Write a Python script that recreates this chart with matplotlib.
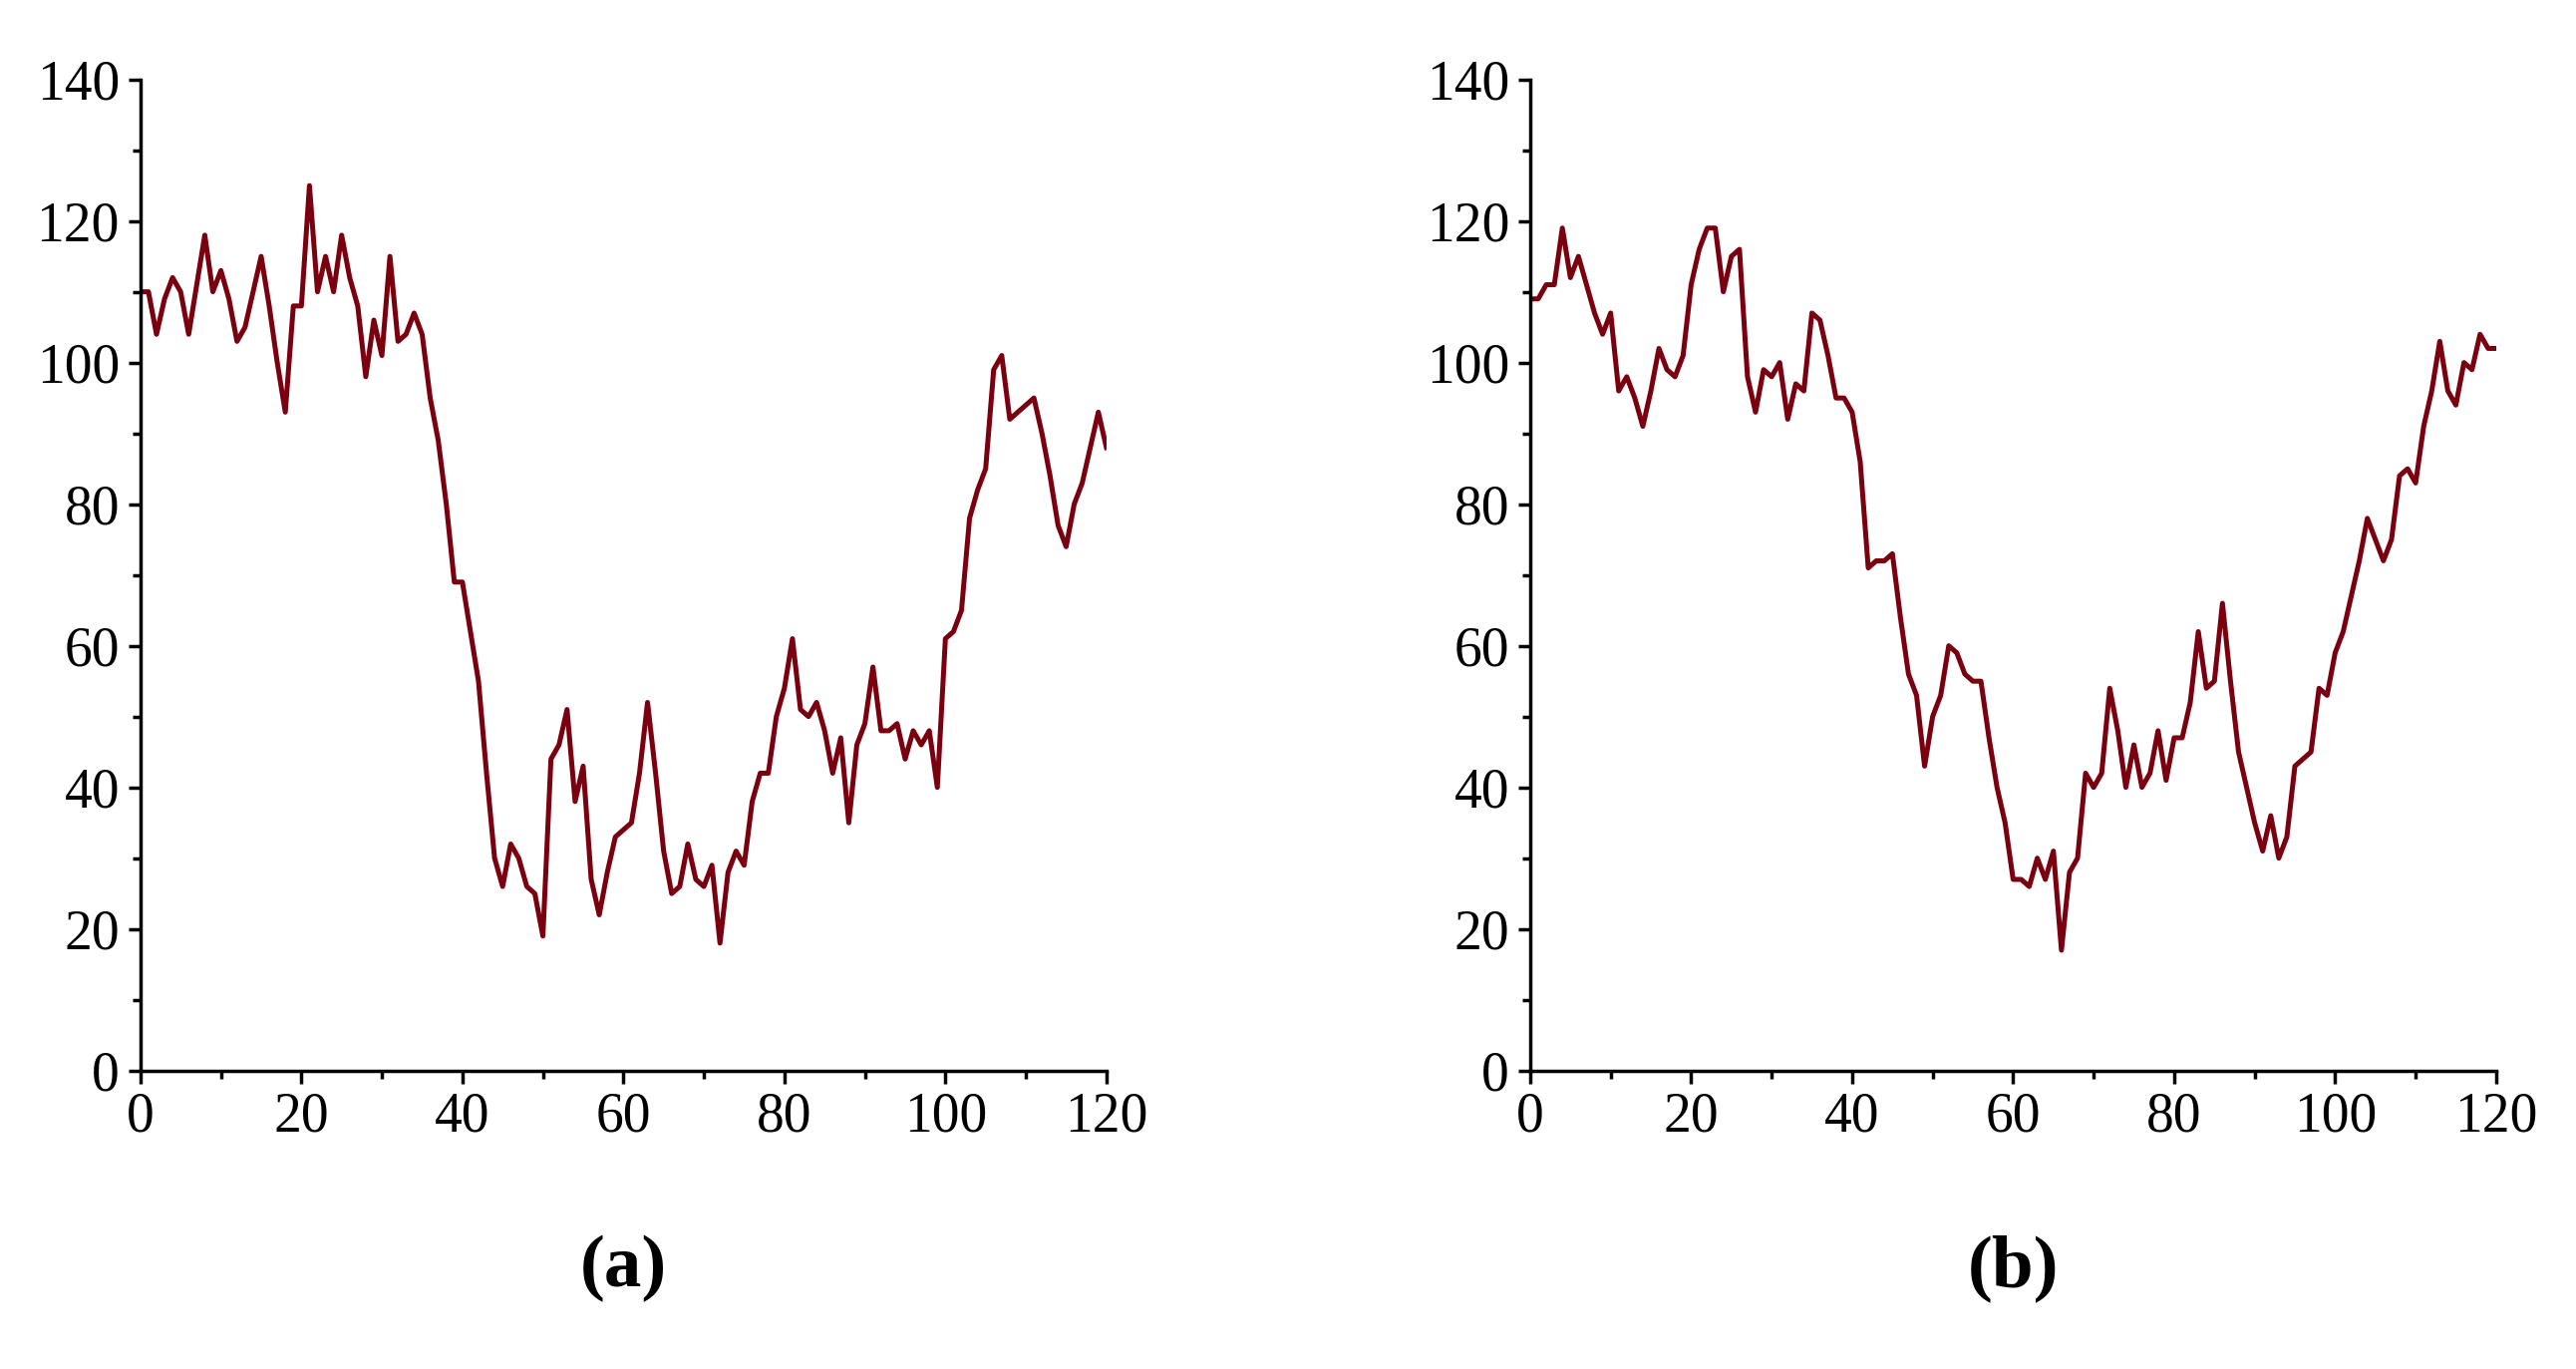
import matplotlib
matplotlib.use("Agg")
import matplotlib.pyplot as plt
from matplotlib.ticker import MultipleLocator

a_vals = [110,110,104,109,112,110,104,111,118,110,113,109,103,105,110,115,108,100,93,108,108,125,110,115,110,118,112,108,98,106,101,115,103,104,107,104,95,89,80,69,69,62,55,42,30,26,32,30,26,25,19,44,46,51,38,43,27,22,28,33,34,35,42,52,42,31,25,26,32,27,26,29,18,28,31,29,38,42,42,50,54,61,51,50,52,48,42,47,35,46,49,57,48,48,49,44,48,46,48,40,61,62,65,78,82,85,99,101,92,93,94,95,90,84,77,74,80,83,88,93,88]
b_vals = [109,109,111,111,119,112,115,111,107,104,107,96,98,95,91,96,102,99,98,101,111,116,119,119,110,115,116,98,93,99,98,100,92,97,96,107,106,101,95,95,93,86,71,72,72,73,64,56,53,43,50,53,60,59,56,55,55,47,40,35,27,27,26,30,27,31,17,28,30,42,40,42,54,48,40,46,40,42,48,41,47,47,52,62,54,55,66,55,45,40,35,31,36,30,33,43,44,45,54,53,59,62,67,72,78,75,72,75,84,85,83,91,96,103,96,94,100,99,104,102,102]
x_vals = list(range(len(a_vals)))
panel_labels = ["(a)", "(b)"]

plt.rcParams['font.family'] = ['Liberation Serif', 'DejaVu Serif']
fig = plt.figure(figsize=(25.84, 13.73), dpi=100)
lefts = [0.0545, 0.594]
for left, vals, lab in zip(lefts, [a_vals, b_vals], panel_labels):
    ax = fig.add_axes([left, 0.218, 0.375, 0.724])
    ax.plot(x_vals, vals, color='#7a0010', lw=3.6)
    ax.set_xlim(0, 120)
    ax.set_ylim(0, 140)
    ax.xaxis.set_major_locator(MultipleLocator(20))
    ax.xaxis.set_minor_locator(MultipleLocator(10))
    ax.yaxis.set_major_locator(MultipleLocator(20))
    ax.yaxis.set_minor_locator(MultipleLocator(10))
    for s in ['top', 'right']:
        ax.spines[s].set_visible(False)
    for s in ['left', 'bottom']:
        ax.spines[s].set_linewidth(2.5)
    ax.tick_params(which='major', length=9, width=2.5, labelsize=40, pad=6)
    ax.tick_params(which='minor', length=6, width=2.5)
    ax.text(0.5, -0.2, lab, transform=ax.transAxes, ha='center', va='center',
            fontsize=54, fontweight='bold')
fig.savefig("out.png", dpi=100)
